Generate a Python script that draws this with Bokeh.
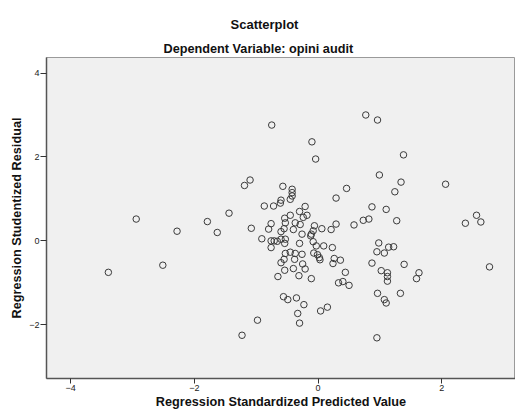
from bokeh.plotting import figure
from bokeh.models import Range1d, Title, FixedTicker, ColumnDataSource
from bokeh.embed import file_html
from bokeh.resources import INLINE

# Regression Standardized Predicted Value (x) and Studentized Residual (y)
pred = [0.77, 0.96, -0.75, -0.10, -0.04, 1.38, 0.99, -1.19, -1.10, -0.57,
        -0.42, -0.42, -0.42, -0.45, -0.60, -0.61, 0.46, 0.29, 1.34, 1.24,
        2.06, -0.87, -0.72, -0.21, 0.87, 1.10, -0.30, -1.44, -0.18, -0.45,
        -0.24, -0.54, -1.79, 0.73, 0.82, 1.27, 2.56, 2.38, 2.63, -2.94,
        -0.53, -0.37, -0.29, -0.76, -0.06, 0.29, 0.58, -0.80, -1.08, -0.55,
        -0.40, -0.60, -0.26, -0.08, -0.11, -0.12, 0.06, 0.21, -2.28, -1.63,
        -0.91, -0.76, -0.71, -0.66, -0.60, -0.53, -0.54, -0.30, -0.08, -0.03,
        0.09, 0.23, 0.98, 0.95, 1.07, 1.14, 1.22, -0.76, -3.39, -2.51,
        -0.53, -0.45, -0.37, -0.26, -0.07, -0.01, 0.02, 0.03, 0.26, 0.24,
        0.36, -0.55, -0.38, -0.60, -0.25, -0.21, 0.87, 1.39, 2.77, -0.54,
        -0.40, 1.02, 1.12, 1.12, 1.12, 1.63, 1.59, 0.44, -0.65, -0.31,
        -0.11, 0.33, 0.40, 0.50, -0.56, -0.49, -0.35, -0.23, 0.96, 1.07,
        1.10, 1.33, -0.33, -0.30, 0.15, 0.04, -0.98, -1.23, 0.95]
resid = [3.00, 2.88, 2.76, 2.36, 1.95, 2.05, 1.57, 1.32, 1.45, 1.30,
         1.23, 1.15, 1.07, 0.99, 0.97, 0.90, 1.25, 1.02, 1.40, 1.17,
         1.35, 0.83, 0.83, 0.82, 0.81, 0.75, 0.70, 0.66, 0.61, 0.61,
         0.56, 0.54, 0.46, 0.49, 0.52, 0.48, 0.61, 0.42, 0.45, 0.52,
         0.43, 0.43, 0.39, 0.41, 0.36, 0.40, 0.38, 0.28, 0.30, 0.29,
         0.27, 0.22, 0.16, 0.24, 0.16, 0.12, 0.29, 0.27, 0.23, 0.20,
         0.05, 0.00, 0.00, -0.01, 0.04, 0.04, -0.06, -0.06, -0.02, -0.12,
         -0.12, -0.16, -0.05, -0.26, -0.29, -0.15, -0.14, -0.16, -0.75, -0.58,
         -0.30, -0.27, -0.30, -0.32, -0.29, -0.33, -0.40, -0.45, -0.42, -0.54,
         -0.46, -0.44, -0.44, -0.52, -0.55, -0.67, -0.53, -0.56, -0.62, -0.70,
         -0.66, -0.71, -0.76, -0.85, -0.96, -0.76, -0.90, -0.75, -0.85, -0.83,
         -0.90, -1.00, -0.97, -1.06, -1.33, -1.40, -1.36, -1.52, -1.25, -1.40,
         -1.48, -1.25, -1.73, -1.96, -1.58, -1.67, -1.89, -2.25, -2.31]

x_ticks = [-4, -2, 0, 2]
y_ticks = [-2, 0, 2, 4]

FONT = "Liberation Sans"

p = figure(width=515, height=411, output_backend="svg", toolbar_location=None,
           x_range=Range1d(-4.39, 3.19), y_range=Range1d(-3.28, 4.37),
           min_border_left=46, min_border_right=0, min_border_top=57,
           min_border_bottom=30)

p.background_fill_color = "#F0F0F0"
p.border_fill_color = "white"
p.outline_line_color = "#9a9a9a"
p.outline_line_width = 1
p.grid.visible = False

src = ColumnDataSource(dict(x=pred, y=resid))
p.scatter("x", "y", source=src, size=6.5, fill_color=None,
          line_color="#3a3a3a", line_width=1)

p.xaxis.ticker = FixedTicker(ticks=x_ticks)
p.yaxis.ticker = FixedTicker(ticks=y_ticks)
for ax in (p.xaxis, p.yaxis):
    ax.minor_tick_line_color = None
    ax.major_tick_in = 0
    ax.major_tick_line_color = "#333333"
    ax.axis_line_color = "#555555"
    ax.axis_line_width = 1.5
    ax.major_label_text_font = FONT
    ax.major_label_text_font_size = "9px"
    ax.major_label_text_color = "#222222"
    ax.axis_label_text_font = FONT
    ax.axis_label_text_font_size = "12.7px"
    ax.axis_label_text_font_style = "bold"
    ax.axis_label_text_color = "#111111"

p.xaxis.major_tick_out = 5
p.yaxis.major_tick_out = 6
p.xaxis.major_label_standoff = 1
p.yaxis.major_label_standoff = 1

p.xaxis.axis_label = "Regression Standardized Predicted Value"
p.yaxis.axis_label = "Regression Studentized Residual"
p.xaxis.axis_label_standoff = 1
p.yaxis.axis_label_standoff = 2

p.add_layout(Title(text="Dependent Variable: opini audit", align="left",
                   offset=117, text_font=FONT, text_font_size="12.7px",
                   text_font_style="bold", text_color="#111111",
                   standoff=4), "above")
p.add_layout(Title(text="Scatterplot", align="left", offset=184,
                   text_font=FONT, text_font_size="13px",
                   text_font_style="bold", text_color="#111111",
                   standoff=11), "above")

open("out.html", "w").write(file_html(p, INLINE))
